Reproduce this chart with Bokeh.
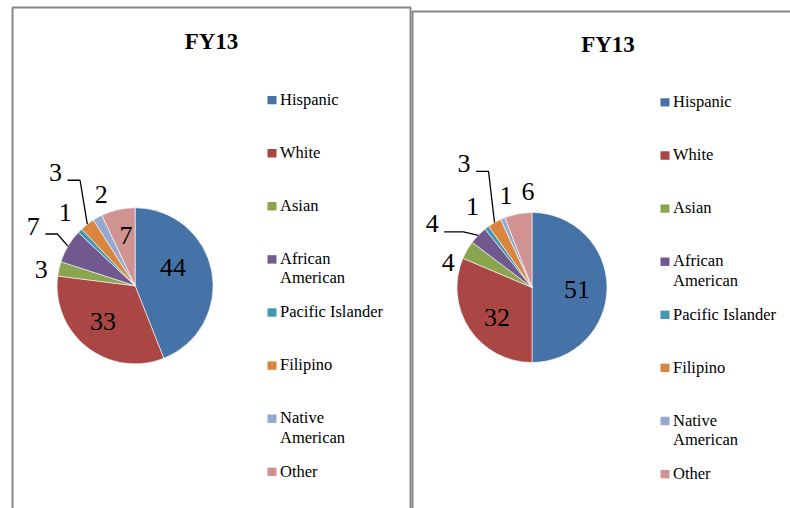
import math
from bokeh.plotting import figure
from bokeh.models import Range1d, ColumnDataSource
from bokeh.embed import file_html
from bokeh.resources import INLINE
from bokeh.core.properties import value

# ---------------- data ----------------
categories = ["Hispanic", "White", "Asian", "African American",
              "Pacific Islander", "Filipino", "Native American", "Other"]
left_title = "FY13"
right_title = "FY13"
left_values = [44, 33, 3, 7, 1, 3, 2, 7]
right_values = [51, 32, 4, 4, 1, 3, 1, 6]
colors = ["#4572A7", "#AA4643", "#89A54E", "#71588F",
          "#4198AF", "#DB843D", "#93A9CF", "#D19392"]

# ---------------- layout ----------------
W, H = 790, 508
SERIF = "Liberation Serif"
WRAPPED = ("African American", "Native American")

p = figure(width=W, height=H, x_range=Range1d(0, W), y_range=Range1d(0, H),
           output_backend="svg", toolbar_location=None,
           x_axis_location=None, y_axis_location=None, min_border=0)
p.grid.visible = False
p.outline_line_color = None
p.background_fill_color = "white"
p.border_fill_color = "white"


def Y(y):
    return H - y


def draw_panel(title, values, box, cx, cy, r, title_xy, legend_x, legend_base0, layout):
    bl, bt, br = box
    p.quad(left=[bl], right=[br], top=[Y(bt)], bottom=[Y(H + 30)],
           fill_color=None, line_color="#878787", line_width=2)

    total = float(sum(values))
    cum = [0.0]
    for v in values:
        cum.append(cum[-1] + v / total)
    s_deg = [360 * c for c in cum[:-1]]
    e_deg = [360 * c for c in cum[1:]]
    src = ColumnDataSource(dict(
        start=[math.radians(90 - e) for e in e_deg],
        end=[math.radians(90 - s) for s in s_deg],
        color=colors, cat=categories, val=values))
    p.wedge(x=cx, y=Y(cy), radius=r, start_angle="start", end_angle="end",
            fill_color="color", line_color="white", line_width=0.6, source=src)

    # data labels
    lxs, lys, ltxt = [], [], []
    lead_x, lead_y = [], []
    for i, v in enumerate(values):
        mid = (s_deg[i] + e_deg[i]) / 2.0
        rl, nudge, elbow = layout[i]
        a = math.radians(mid + nudge)
        lx = cx + rl * math.sin(a)
        ly = cy - rl * math.cos(a)
        lxs.append(lx)
        lys.append(Y(ly - 1.8))
        ltxt.append(str(v))
        if elbow is not None:
            hy = ly + 6
            m = math.radians(mid)
            lead_x.append([lx + 12, lx + elbow, cx + r * math.sin(m)])
            lead_y.append([Y(hy), Y(hy), Y(cy - r * math.cos(m))])
    p.text(x=lxs, y=lys, text=ltxt, text_font=value(SERIF), text_font_size="26px",
           text_align="center", text_baseline="alphabetic", text_color="#000000")
    if lead_x:
        p.multi_line(xs=lead_x, ys=lead_y, line_color="#000000", line_width=1.3)

    # title
    p.text(x=[title_xy[0]], y=[Y(title_xy[1] - 1.8)], text=[title],
           text_font=value(SERIF), text_font_size="23px", text_font_style="bold",
           text_align="center", text_baseline="alphabetic", text_color="#000000")

    # legend
    qx0, qx1, qt, qb = [], [], [], []
    tx, ty, tt = [], [], []
    for i, cat in enumerate(categories):
        base = legend_base0 + i * 53.1
        qx0.append(legend_x)
        qx1.append(legend_x + 9)
        qt.append(Y(base - 9.6))
        qb.append(Y(base - 1.2))
        lines = cat.split(" ", 1) if cat in WRAPPED else [cat]
        for j, line in enumerate(lines):
            tx.append(legend_x + 12.5)
            ty.append(Y(base - 6.2 + j * 19.3))
            tt.append(line)
    p.quad(left=qx0, right=qx1, top=qt, bottom=qb, fill_color=colors, line_color=None)
    p.text(x=tx, y=ty, text=tt, text_font=value(SERIF), text_font_size="16.5px",
           text_align="left", text_baseline="alphabetic", text_color="#000000")


left_layout = [(41.4, -12.7, None), (49.3, 2.7, None), (95, -3.6, None), (117, -1, 24),
               (100, 0.6, None), (137, 2.3, 24.5), (96, 8.1, None), (49, 2, None)]
right_layout = [(45.2, 5, None), (47.4, -8.9, None), (87, -14.4, None), (117.4, -12.4, 31.5),
                (98.9, 0, None), (139.7, 0.9, 24.5), (94.2, 6.9, None), (94.6, 8.2, None)]

draw_panel(left_title, left_values, (12, 7, 410), 134.6, 285.3, 78, (211, 42.5), 267, 105, left_layout)
draw_panel(right_title, right_values, (412, 11, 820), 531.5, 287, 75, (607.5, 46), 660, 107.3, right_layout)

open("out.html", "w").write(file_html(p, INLINE))
